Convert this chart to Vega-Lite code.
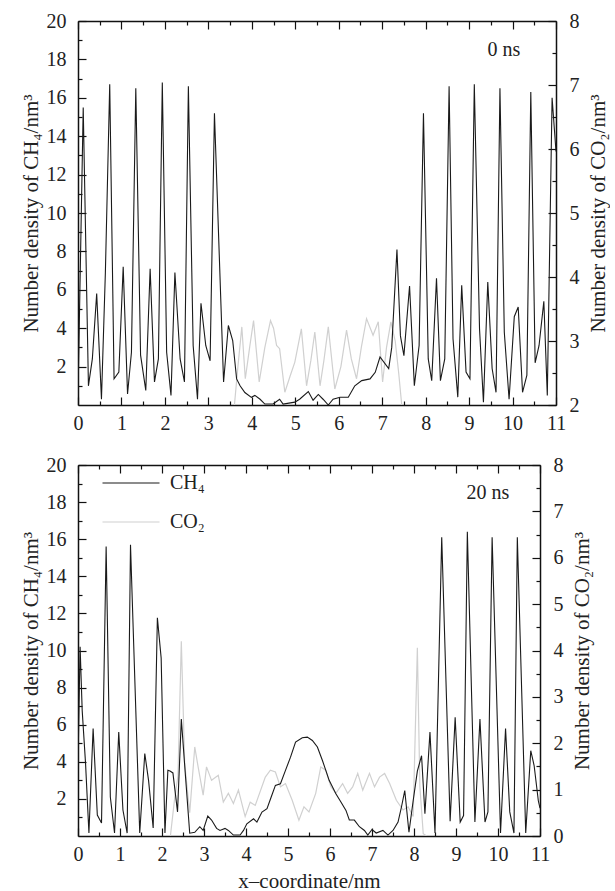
{
  "$schema": "https://vega.github.io/schema/vega-lite/v6.json",
  "background": "white",
  "padding": {"left": 20, "top": 11, "right": 2, "bottom": 0},
  "config": {
    "font": "Liberation Serif",
    "view": {"stroke": null},
    "axis": {
      "labelFont": "Liberation Serif", "titleFont": "Liberation Serif",
      "labelFontSize": 20, "titleFontSize": 21, "titleFontWeight": "normal",
      "labelColor": "#222", "titleColor": "#222",
      "domainColor": "#111", "domainWidth": 1.5,
      "tickColor": "#111", "tickWidth": 1.2, "grid": false,
      "labelFlush": false, "labelOverlap": false
    },
    "text": {"font": "Liberation Serif"}
  },
  "datasets": {
    "top_ch4": [
      {"x":0,"v":0.5},{"x":0.12,"v":15.5},{"x":0.24,"v":1.0},{"x":0.33,"v":2.4},{"x":0.43,"v":5.8},{"x":0.54,"v":0.3},{"x":0.63,"v":6.9},{"x":0.73,"v":16.7},{"x":0.83,"v":1.37},{"x":0.94,"v":1.72},{"x":1.04,"v":7.2},{"x":1.14,"v":0.57},{"x":1.23,"v":2.75},{"x":1.33,"v":16.5},{"x":1.44,"v":2.6},{"x":1.56,"v":0.76},{"x":1.66,"v":7.1},{"x":1.76,"v":1.2},{"x":1.85,"v":2.4},{"x":1.94,"v":16.8},{"x":2.04,"v":2.75},{"x":2.14,"v":0.5},{"x":2.23,"v":6.9},{"x":2.35,"v":2.4},{"x":2.45,"v":1.2},{"x":2.54,"v":16.6},{"x":2.65,"v":3.1},{"x":2.75,"v":0.3},{"x":2.83,"v":5.3},{"x":2.94,"v":3.1},{"x":3.04,"v":2.3},{"x":3.14,"v":15.2},{"x":3.35,"v":1.2},{"x":3.46,"v":4.14},{"x":3.56,"v":3.36},{"x":3.65,"v":1.36},{"x":3.73,"v":1.0},{"x":3.84,"v":0.65},{"x":3.99,"v":0.4},{"x":4.07,"v":0.5},{"x":4.19,"v":0.3},{"x":4.3,"v":0.05},{"x":4.49,"v":0.05},{"x":4.64,"v":0.3},{"x":4.72,"v":0.05},{"x":4.99,"v":0.15},{"x":5.1,"v":0.3},{"x":5.3,"v":0.7},{"x":5.41,"v":0.25},{"x":5.53,"v":0.55},{"x":5.64,"v":0.3},{"x":5.76,"v":0.0},{"x":5.87,"v":0.3},{"x":6.03,"v":0.4},{"x":6.22,"v":0.4},{"x":6.37,"v":1.0},{"x":6.53,"v":1.27},{"x":6.72,"v":1.36},{"x":6.84,"v":1.7},{"x":6.95,"v":2.5},{"x":7.15,"v":1.9},{"x":7.22,"v":3.0},{"x":7.34,"v":8.1},{"x":7.42,"v":3.6},{"x":7.5,"v":2.57},{"x":7.63,"v":6.2},{"x":7.74,"v":1.0},{"x":7.85,"v":3.1},{"x":7.95,"v":15.2},{"x":8.06,"v":2.4},{"x":8.14,"v":1.27},{"x":8.25,"v":6.6},{"x":8.34,"v":1.27},{"x":8.44,"v":2.4},{"x":8.54,"v":16.6},{"x":8.63,"v":3.45},{"x":8.74,"v":0.41},{"x":8.83,"v":6.23},{"x":8.93,"v":1.72},{"x":9.02,"v":1.37},{"x":9.12,"v":16.7},{"x":9.24,"v":3.97},{"x":9.33,"v":0.14},{"x":9.43,"v":6.4},{"x":9.53,"v":1.9},{"x":9.62,"v":0.66},{"x":9.71,"v":16.5},{"x":9.81,"v":3.8},{"x":9.92,"v":0.3},{"x":10.04,"v":4.6},{"x":10.13,"v":5.1},{"x":10.23,"v":0.66},{"x":10.33,"v":1.55},{"x":10.42,"v":16.3},{"x":10.52,"v":2.2},{"x":10.61,"v":3.1},{"x":10.72,"v":5.4},{"x":10.8,"v":0.5},{"x":10.91,"v":16.0},{"x":11.0,"v":13.2}
    ],
    "top_co2": [
      {"x":3.6,"v":2.0},{"x":3.68,"v":2.6},{"x":3.77,"v":3.22},{"x":3.85,"v":2.41},{"x":3.95,"v":2.9},{"x":4.04,"v":3.32},{"x":4.17,"v":2.36},{"x":4.3,"v":2.9},{"x":4.43,"v":3.32},{"x":4.5,"v":3.2},{"x":4.57,"v":2.93},{"x":4.64,"v":2.88},{"x":4.76,"v":2.2},{"x":4.88,"v":2.45},{"x":4.99,"v":2.67},{"x":5.14,"v":3.19},{"x":5.26,"v":2.3},{"x":5.36,"v":2.7},{"x":5.45,"v":3.14},{"x":5.57,"v":2.3},{"x":5.66,"v":2.7},{"x":5.76,"v":3.22},{"x":5.91,"v":2.25},{"x":6.05,"v":2.6},{"x":6.18,"v":3.17},{"x":6.29,"v":2.72},{"x":6.41,"v":2.41},{"x":6.52,"v":2.9},{"x":6.64,"v":3.35},{"x":6.79,"v":3.09},{"x":6.91,"v":3.3},{"x":7.01,"v":2.36},{"x":7.1,"v":2.9},{"x":7.2,"v":3.3},{"x":7.3,"v":3.0},{"x":7.38,"v":2.5},{"x":7.45,"v":2.0}
    ],
    "bot_ch4": [
      {"x":0,"v":3.9},{"x":0.05,"v":10.2},{"x":0.1,"v":6.76},{"x":0.18,"v":3.9},{"x":0.26,"v":0.16},{"x":0.36,"v":5.8},{"x":0.46,"v":1.13},{"x":0.56,"v":0.7},{"x":0.67,"v":15.6},{"x":0.77,"v":2.1},{"x":0.87,"v":0.16},{"x":0.97,"v":5.6},{"x":1.07,"v":1.4},{"x":1.17,"v":0.16},{"x":1.25,"v":15.7},{"x":1.47,"v":0.16},{"x":1.59,"v":4.45},{"x":1.68,"v":3.0},{"x":1.79,"v":0.43},{"x":1.89,"v":11.76},{"x":1.98,"v":9.6},{"x":2.07,"v":0.16},{"x":2.14,"v":3.54},{"x":2.19,"v":3.5},{"x":2.26,"v":3.4},{"x":2.37,"v":1.3},{"x":2.46,"v":6.3},{"x":2.56,"v":3.2},{"x":2.66,"v":0.15},{"x":2.78,"v":0.2},{"x":2.9,"v":0.5},{"x":2.98,"v":0.3},{"x":3.09,"v":1.07},{"x":3.18,"v":0.86},{"x":3.3,"v":0.41},{"x":3.38,"v":0.3},{"x":3.5,"v":0.41},{"x":3.58,"v":0.3},{"x":3.7,"v":0.05},{"x":3.86,"v":0.05},{"x":3.94,"v":0.3},{"x":4.02,"v":0.66},{"x":4.18,"v":0.93},{"x":4.26,"v":0.75},{"x":4.38,"v":1.29},{"x":4.5,"v":1.47},{"x":4.6,"v":2.1},{"x":4.7,"v":2.73},{"x":4.82,"v":2.82},{"x":4.94,"v":3.54},{"x":5.06,"v":4.25},{"x":5.18,"v":5.06},{"x":5.34,"v":5.3},{"x":5.46,"v":5.33},{"x":5.58,"v":5.15},{"x":5.7,"v":4.8},{"x":5.82,"v":4.07},{"x":5.9,"v":3.54},{"x":5.98,"v":3.0},{"x":6.06,"v":2.64},{"x":6.14,"v":2.28},{"x":6.26,"v":1.83},{"x":6.38,"v":1.38},{"x":6.46,"v":0.86},{"x":6.58,"v":0.86},{"x":6.7,"v":0.5},{"x":6.82,"v":0.3},{"x":6.9,"v":0.05},{"x":7.0,"v":0.35},{"x":7.1,"v":0.16},{"x":7.26,"v":0.3},{"x":7.38,"v":0.05},{"x":7.5,"v":0.3},{"x":7.62,"v":0.75},{"x":7.7,"v":1.55},{"x":7.78,"v":2.45},{"x":7.88,"v":0.2},{"x":7.98,"v":1.9},{"x":8.08,"v":3.5},{"x":8.18,"v":4.33},{"x":8.26,"v":1.2},{"x":8.38,"v":5.6},{"x":8.5,"v":0.16},{"x":8.66,"v":16.1},{"x":8.86,"v":0.8},{"x":8.98,"v":6.4},{"x":9.1,"v":0.75},{"x":9.18,"v":1.1},{"x":9.27,"v":16.4},{"x":9.45,"v":0.75},{"x":9.57,"v":6.3},{"x":9.69,"v":0.75},{"x":9.76,"v":1.3},{"x":9.86,"v":16.1},{"x":10.06,"v":0.16},{"x":10.18,"v":5.8},{"x":10.28,"v":1.3},{"x":10.38,"v":0.16},{"x":10.46,"v":16.1},{"x":10.66,"v":0.16},{"x":10.78,"v":4.6},{"x":10.86,"v":3.8},{"x":10.96,"v":1.9},{"x":11.0,"v":1.5}
    ],
    "bot_co2": [
      {"x":2.2,"v":0},{"x":2.3,"v":0.8},{"x":2.38,"v":1.3},{"x":2.46,"v":4.2},{"x":2.54,"v":1.56},{"x":2.66,"v":0.5},{"x":2.78,"v":1.92},{"x":2.86,"v":1.49},{"x":2.98,"v":0.88},{"x":3.06,"v":1.49},{"x":3.18,"v":1.2},{"x":3.34,"v":1.31},{"x":3.46,"v":0.73},{"x":3.58,"v":0.92},{"x":3.7,"v":0.7},{"x":3.82,"v":0.99},{"x":3.98,"v":0.42},{"x":4.1,"v":0.73},{"x":4.22,"v":0.66},{"x":4.46,"v":1.27},{"x":4.58,"v":1.42},{"x":4.7,"v":1.38},{"x":4.82,"v":1.06},{"x":4.94,"v":1.13},{"x":5.1,"v":0.77},{"x":5.26,"v":0.34},{"x":5.38,"v":0.63},{"x":5.5,"v":0.52},{"x":5.66,"v":0.92},{"x":5.78,"v":1.49},{"x":5.9,"v":1.42},{"x":6.02,"v":1.06},{"x":6.14,"v":0.92},{"x":6.3,"v":1.13},{"x":6.42,"v":0.92},{"x":6.54,"v":1.06},{"x":6.66,"v":1.35},{"x":6.78,"v":0.99},{"x":6.94,"v":1.35},{"x":7.06,"v":1.06},{"x":7.18,"v":1.27},{"x":7.3,"v":1.35},{"x":7.42,"v":1.13},{"x":7.58,"v":0.77},{"x":7.74,"v":0.56},{"x":7.86,"v":0.63},{"x":7.98,"v":0.42},{"x":8.08,"v":4.06},{"x":8.14,"v":1.06},{"x":8.22,"v":0.05},{"x":8.3,"v":0}
    ]
  },
  "spacing": 18,
  "resolve": {"scale": {"color": "independent"}},
  "vconcat": [
    {
      "width": 478, "height": 384,
      "layer": [
        {
          "data": {"name": "top_co2"},
          "mark": {"type": "line", "color": "#d0d0d0", "strokeWidth": 1.2, "clip": true},
          "encoding": {
            "x": {"field": "x", "type": "quantitative", "scale": {"domain": [0, 11], "nice": false},
              "axis": {"orient": "top", "title": null, "labels": false,
                "values": [0,0.5,1,1.5,2,2.5,3,3.5,4,4.5,5,5.5,6,6.5,7,7.5,8,8.5,9,9.5,10,10.5,11],
                "tickSize": {"condition": {"test": "datum.value % 1 === 0", "value": -8}, "value": -4}}},
            "y": {"field": "v", "type": "quantitative", "scale": {"domain": [2, 8], "nice": false, "zero": false},
              "axis": {"orient": "right", "title": "Number density of CO₂/nm³", "titleAngle": 270, "titleBaseline": "top",
                "values": [2,2.5,3,3.5,4,4.5,5,5.5,6,6.5,7,7.5,8],
                "labelExpr": "datum.value % 1 === 0 ? format(datum.value, 'd') : ''",
                "labelAlign": "left", "labelBaseline": "middle",
                "tickSize": {"condition": {"test": "datum.value % 1 === 0", "value": -8}, "value": -4},
                "labelPadding": 21, "titlePadding": 8}}
          }
        },
        {
          "data": {"name": "top_ch4"},
          "mark": {"type": "line", "color": "#1a1a1a", "strokeWidth": 1.1, "clip": true},
          "encoding": {
            "x": {"field": "x", "type": "quantitative", "scale": {"domain": [0, 11], "nice": false},
              "axis": {"orient": "bottom", "title": null,
                "values": [0,0.5,1,1.5,2,2.5,3,3.5,4,4.5,5,5.5,6,6.5,7,7.5,8,8.5,9,9.5,10,10.5,11],
                "labelExpr": "datum.value % 1 === 0 ? format(datum.value, 'd') : ''",
                "labelAlign": "center", "labelBaseline": "top",
                "tickSize": {"condition": {"test": "datum.value % 1 === 0", "value": -8}, "value": -4},
                "labelPadding": 16}},
            "y": {"field": "v", "type": "quantitative", "scale": {"domain": [0, 20], "nice": false},
              "axis": {"orient": "left", "title": "Number density of CH₄/nm³",
                "values": [1,2,3,4,5,6,7,8,9,10,11,12,13,14,15,16,17,18,19,20],
                "labelExpr": "datum.value % 2 === 0 ? format(datum.value, 'd') : ''",
                "labelAlign": "right", "labelBaseline": "middle",
                "tickSize": {"condition": {"test": "datum.value % 2 === 0", "value": -8}, "value": -4},
                "labelPadding": 20, "titlePadding": 5}}
          }
        },
        {
          "data": {"values": [{"label": "0 ns"}]},
          "mark": {"type": "text", "fontSize": 20, "align": "center", "baseline": "middle", "color": "#222"},
          "encoding": {
            "x": {"datum": 9.8, "type": "quantitative", "axis": null},
            "y": {"datum": 18.5, "type": "quantitative", "scale": {"domain": [0, 20], "nice": false}, "axis": null},
            "text": {"field": "label"}
          }
        }
      ],
      "resolve": {"scale": {"y": "independent"}, "axis": {"x": "independent", "y": "independent"}}
    },
    {
      "width": 462, "height": 371,
      "layer": [
        {
          "data": {"name": "bot_co2"},
          "mark": {"type": "line", "strokeWidth": 1.2, "clip": true},
          "encoding": {
            "x": {"field": "x", "type": "quantitative", "scale": {"domain": [0, 11], "nice": false},
              "axis": {"orient": "top", "title": null, "labels": false,
                "values": [0,0.5,1,1.5,2,2.5,3,3.5,4,4.5,5,5.5,6,6.5,7,7.5,8,8.5,9,9.5,10,10.5,11],
                "tickSize": {"condition": {"test": "datum.value % 1 === 0", "value": -8}, "value": -4}}},
            "y": {"field": "v", "type": "quantitative", "scale": {"domain": [0, 8], "nice": false},
              "axis": {"orient": "right", "title": "Number density of CO₂/nm³", "titleAngle": 270, "titleBaseline": "top",
                "values": [0,0.5,1,1.5,2,2.5,3,3.5,4,4.5,5,5.5,6,6.5,7,7.5,8],
                "labelExpr": "datum.value % 1 === 0 ? format(datum.value, 'd') : ''",
                "labelAlign": "left", "labelBaseline": "middle",
                "tickSize": {"condition": {"test": "datum.value % 1 === 0", "value": -8}, "value": -4},
                "labelPadding": 21, "titlePadding": 8}},
            "color": {"datum": "CO₂", "type": "nominal",
              "scale": {"domain": ["CH₄", "CO₂"], "range": ["#1a1a1a", "#d0d0d0"]},
              "legend": {"orient": "none", "legendX": 33, "legendY": -2, "title": null,
                "symbolType": "M-1.5,0H1.5", "symbolSize": 1444, "symbolStrokeWidth": 1.2,
                "labelFont": "Liberation Serif", "labelFontSize": 20, "labelColor": "#222",
                "labelOffset": 19, "rowPadding": 9}}
          }
        },
        {
          "data": {"name": "bot_ch4"},
          "mark": {"type": "line", "strokeWidth": 1.1, "clip": true},
          "encoding": {
            "x": {"field": "x", "type": "quantitative", "scale": {"domain": [0, 11], "nice": false},
              "axis": {"orient": "bottom", "title": "x–coordinate/nm",
                "values": [0,0.5,1,1.5,2,2.5,3,3.5,4,4.5,5,5.5,6,6.5,7,7.5,8,8.5,9,9.5,10,10.5,11],
                "labelExpr": "datum.value % 1 === 0 ? format(datum.value, 'd') : ''",
                "labelAlign": "center", "labelBaseline": "top",
                "tickSize": {"condition": {"test": "datum.value % 1 === 0", "value": -8}, "value": -4},
                "labelPadding": 16, "titlePadding": 2}},
            "y": {"field": "v", "type": "quantitative", "scale": {"domain": [0, 20], "nice": false},
              "axis": {"orient": "left", "title": "Number density of CH₄/nm³",
                "values": [1,2,3,4,5,6,7,8,9,10,11,12,13,14,15,16,17,18,19,20],
                "labelExpr": "datum.value % 2 === 0 ? format(datum.value, 'd') : ''",
                "labelAlign": "right", "labelBaseline": "middle",
                "tickSize": {"condition": {"test": "datum.value % 2 === 0", "value": -8}, "value": -4},
                "labelPadding": 20, "titlePadding": 5}},
            "color": {"datum": "CH₄", "type": "nominal"}
          }
        },
        {
          "data": {"values": [{"label": "20 ns"}]},
          "mark": {"type": "text", "fontSize": 20, "align": "center", "baseline": "middle", "color": "#222"},
          "encoding": {
            "x": {"datum": 9.76, "type": "quantitative", "axis": null},
            "y": {"datum": 18.5, "type": "quantitative", "scale": {"domain": [0, 20], "nice": false}, "axis": null},
            "text": {"field": "label"}
          }
        }
      ],
      "resolve": {"scale": {"y": "independent"}, "axis": {"x": "independent", "y": "independent"}}
    }
  ]
}
